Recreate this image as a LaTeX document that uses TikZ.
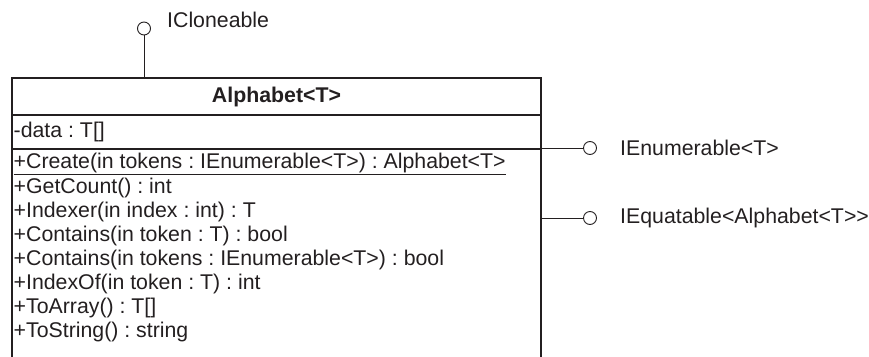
\documentclass[tikz,border=0pt]{standalone}
\usepackage{fontspec}
\setmainfont{Liberation Sans}
\definecolor{ink}{HTML}{231F20}
\frenchspacing
\begin{document}
\begin{tikzpicture}[x=1pt,y=-1pt,
  txt/.style={font=\fontsize{21.3}{24}\selectfont\frenchspacing, text=ink, inner sep=0pt},
  member/.style={txt, anchor=west},
  lollipop/.style={circle, draw=ink, line width=0.9pt, minimum size=13pt, inner sep=0pt, fill=white},
  border/.style={draw=ink, line width=1.6pt},
  iface/.style={draw=ink, line width=0.9pt}]
\useasboundingbox (0,0) rectangle (869,356);
% class box
\coordinate (tl) at (12,78);
\coordinate (tr) at (541,78);
\coordinate (bl) at (12,358);
\coordinate (br) at (541,358);
\draw[border] (bl) -- (tl) -- (tr) -- (br);
\draw[border] (12,115) -- (541,115);
\draw[border] (12,149) -- (541,149);
\node[txt, font=\fontsize{21.3}{24}\selectfont\bfseries] (title) at (276.5,97) {Alphabet<T>};
\node[member] (data) at (13.5,132) {-data : T[]};
\node[member] (m1) at (13.5,163.5) {\underline{+Create(in tokens : IEnumerable<T>) : Alphabet<T>}};
\node[member] (m2) at (13.5,187.5) {+GetCount() : int};
\node[member] (m3) at (13.5,211.5) {+Indexer(in index : int) : T};
\node[member] (m4) at (13.5,235.5) {+Contains(in token : T) : bool};
\node[member] (m5) at (13.5,259.5) {+Contains(in tokens : IEnumerable<T>) : bool};
\node[member] (m6) at (13.5,283.5) {+IndexOf(in token : T) : int};
\node[member] (m7) at (13.5,307.5) {+ToArray() : T[]};
\node[member] (m8) at (13.5,331.5) {+ToString() : string};
% interfaces
\coordinate (topc) at (144,78);
\coordinate (r1) at (541,148);
\coordinate (r2) at (541,218);
\node[lollipop] (i1) at (144,28.5) {};
\node[lollipop] (i2) at (590,148) {};
\node[lollipop] (i3) at (590,218) {};
\draw[iface] (topc) -- (i1);
\draw[iface] (r1) -- (i2);
\draw[iface] (r2) -- (i3);
\node[member] (l1) at (167,20) {ICloneable};
\node[member] (l2) at (620,148) {IEnumerable<T>};
\node[member] (l3) at (620,218) {IEquatable<Alphabet<T>\kern0pt>};
\end{tikzpicture}
\end{document}
